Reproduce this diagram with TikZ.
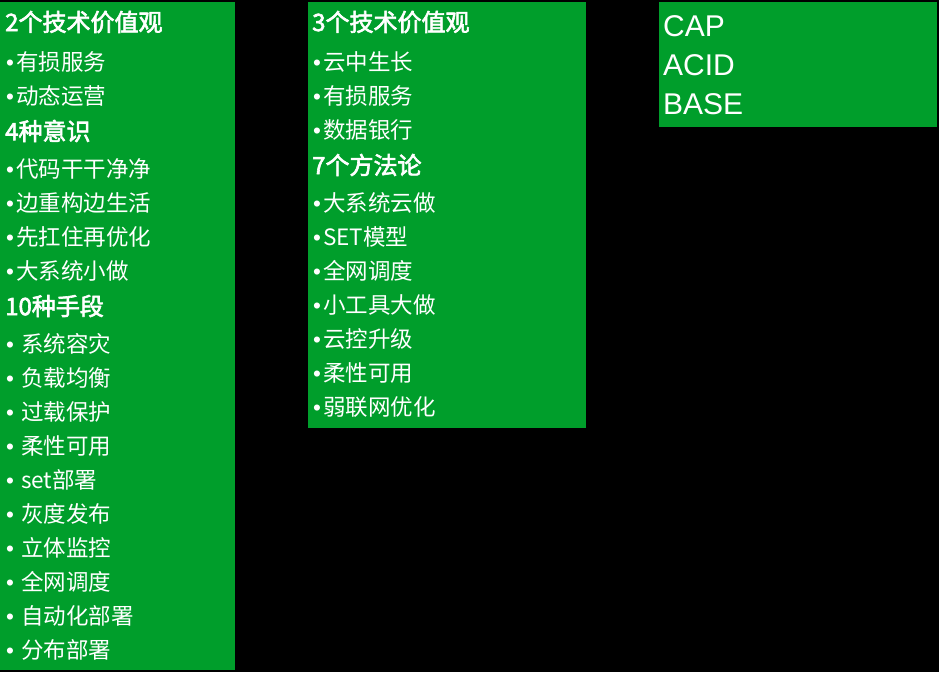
\documentclass[tikz,border=0pt]{standalone}
\usepackage{fontspec}
\setmainfont{Noto Sans CJK SC}[AutoFakeBold=2.5]
\newfontfamily\latinfont{Liberation Sans}
\usetikzlibrary{positioning}
\definecolor{boxgreen}{HTML}{009E2B}
\newcommand{\dotmark}{{\latinfont •}\kern2pt}
\tikzset{
	head/.style={anchor=west, text=white, inner sep=0pt, font=\fontsize{24}{24}\selectfont\bfseries},
	item/.style={anchor=west, text=white, inner sep=0pt, font=\fontsize{22.5}{22.5}\selectfont},
	big/.style={anchor=west, text=white, inner sep=0pt, font=\fontsize{30}{30}\selectfont\latinfont},
}
\begin{document}
\begin{tikzpicture}[x=1pt,y=-1pt]
	\fill[black] (0,0) rectangle (939,672);
	\fill[boxgreen] (0,2) rectangle (235,670);
	\fill[boxgreen] (308,2) rectangle (586,428);
	\fill[boxgreen] (659,2) rectangle (937,127);
	% first column
	\foreach [count=\i] \k/\t/\y in {h/2个技术价值观/22, b/有损服务/62, b/动态运营/96,
		h/4种意识/131, b/代码干干净净/169, b/边重构边生活/203, b/先扛住再优化/237, b/大系统小做/271,
		h/10种手段/306, b/\ 系统容灾/344, b/\ 负载均衡/378, b/\ 过载保护/412, b/\ 柔性可用/446,
		b/\ set部署/480, b/\ 灰度发布/514, b/\ 立体监控/548, b/\ 全网调度/582, b/\ 自动化部署/616, b/\ 分布部署/650}
	{
		\if\k h
			\node (a\i) [head] at (5,\y) {\t};
		\else
			\node (a\i) [item] at (6,\y) {\dotmark\t};
		\fi
	}
	% second column
	\foreach [count=\i] \k/\t/\y in {h/3个技术价值观/22, b/云中生长/62, b/有损服务/96, b/数据银行/130,
		h/7个方法论/165, b/大系统云做/203, b/SET模型/237, b/全网调度/271, b/小工具大做/305,
		b/云控升级/339, b/柔性可用/373, b/弱联网优化/407}
	{
		\if\k h
			\node (b\i) [head] at (312,\y) {\t};
		\else
			\node (b\i) [item] at (313,\y) {\dotmark\t};
		\fi
	}
	% third column
	\node (cap) [big] at (663,26) {CAP};
	\node (acid) [big] at (663,65) {ACID};
	\node (base) [big] at (663,104) {BASE};
\end{tikzpicture}
\end{document}
